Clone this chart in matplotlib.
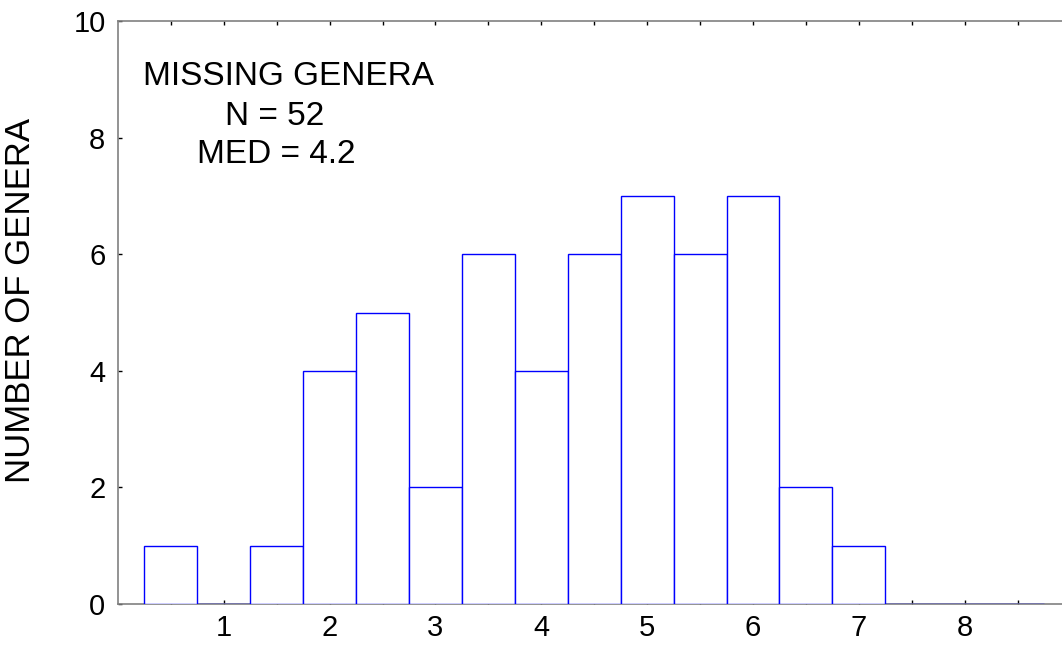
import numpy as np
import matplotlib
matplotlib.use("Agg")
from matplotlib import pyplot as plt

# histogram of missing genera, bins of width 0.5
bin_centers = [0.5, 1.0, 1.5, 2.0, 2.5, 3.0, 3.5, 4.0, 4.5, 5.0, 5.5, 6.0, 6.5, 7.0, 7.5, 8.0, 8.5]
counts = [1, 0, 1, 4, 5, 2, 6, 4, 6, 7, 6, 7, 2, 1, 0, 0, 0]
x_labels = [1, 2, 3, 4, 5, 6, 7, 8]
y_ticks = [0, 2, 4, 6, 8, 10]

plt.rcParams['font.family'] = ['Liberation Sans', 'DejaVu Sans']

fig = plt.figure(figsize=(10.62, 6.48), dpi=100)
ax = fig.add_axes([118 / 1062, 44 / 648, 944 / 1062, 583 / 648])

ax.bar(bin_centers, counts, width=0.5, facecolor='white', edgecolor='#0000ff',
       linewidth=1.0, zorder=3)

ax.set_xlim(0, 8.92)
ax.set_ylim(0, 10)

ax.set_xticks(np.arange(0.5, 9.0, 0.5))
ax.set_xticklabels([str(int(t)) if t in x_labels else '' for t in np.arange(0.5, 9.0, 0.5)])
ax.set_yticks(y_ticks)

ax.tick_params(axis='x', direction='in', length=3, width=1, top=True, labelsize=21, pad=7)
ax.tick_params(axis='y', direction='in', length=3, width=1, labelsize=21, pad=9)

for side in ['left', 'bottom', 'top']:
    ax.spines[side].set_color('#808080')
    ax.spines[side].set_linewidth(1.2)
ax.spines['right'].set_visible(False)

ax.set_ylabel('NUMBER OF GENERA', fontsize=25)
ax.yaxis.set_label_coords(-0.086, 0.52)

ax.text(0.236, 8.90, 'MISSING GENERA', fontsize=24, ha='left', va='baseline')
ax.text(1.48, 8.22, 'N = 52', fontsize=24, ha='center', va='baseline')
ax.text(1.50, 7.56, 'MED = 4.2', fontsize=24, ha='center', va='baseline')

fig.savefig('out.png', dpi=100)
